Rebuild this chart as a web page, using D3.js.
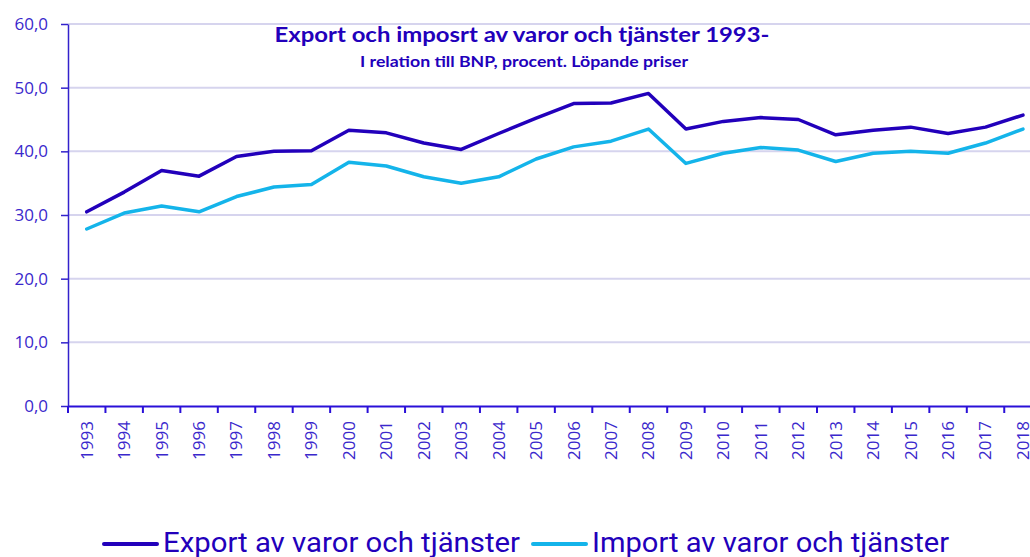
<!DOCTYPE html>
<html>
<head>
<meta charset="utf-8">
<script src="https://cdn.jsdelivr.net/npm/d3@7"></script>
<style>
  body { margin: 0; background: #fff; overflow: hidden; }
  svg { display: block; }
</style>
</head>
<body>
<script>
// Data
var years = ["1993","1994","1995","1996","1997","1998","1999","2000","2001","2002","2003","2004","2005",
  "2006","2007","2008","2009","2010","2011","2012","2013","2014","2015","2016","2017","2018"];
var exportValues = [30.5,33.6,37.0,36.1,39.2,40.0,40.1,43.3,42.9,41.3,40.3,42.8,45.2,
  47.5,47.6,49.1,43.5,44.7,45.3,45.0,42.6,43.3,43.8,42.8,43.8,45.7];
var importValues = [27.8,30.3,31.4,30.5,32.9,34.4,34.8,38.3,37.7,36.0,35.0,36.0,38.8,
  40.7,41.6,43.5,38.1,39.7,40.6,40.2,38.4,39.7,40.0,39.7,41.3,43.5];
var yTicks = [0, 10, 20, 30, 40, 50, 60];
var seriesNames = ["Export av varor och tjänster", "Import av varor och tjänster"];
var seriesColors = ["#2200bb", "#14b4ea"];

var svgWidth = 1030;
var svgHeight = 557;
var margin = { top: 24, left: 68 };
var chartHeight = 406 - margin.top;
var bandStep = 37.45;

var svg = d3.select("body").append("svg")
  .attr("width", svgWidth)
  .attr("height", svgHeight);

var textColor = "#3a28cc";

var xScale = d3.scaleBand()
  .domain(years)
  .range([margin.left, margin.left + bandStep * years.length]);

var yScale = d3.scaleLinear()
  .domain([0, 60])
  .range([margin.top + chartHeight, margin.top]);

// gridlines
svg.append("g").selectAll("line")
  .data(yTicks.filter(d => d > 0))
  .enter().append("line")
  .attr("x1", margin.left)
  .attr("x2", svgWidth)
  .attr("y1", d => yScale(d))
  .attr("y2", d => yScale(d))
  .attr("stroke", "#d6d4ee")
  .attr("stroke-width", 2);

// y axis
var yAxis = svg.append("g")
  .attr("transform", `translate(${margin.left},0)`)
  .call(d3.axisLeft(yScale).tickValues(yTicks).tickSize(7).tickSizeOuter(0)
    .tickFormat(d => d3.format(".1f")(d).replace(".", ",")));
yAxis.select(".domain").attr("stroke", "#3322cc").attr("stroke-width", 1.5);
yAxis.selectAll(".tick line").attr("stroke", "#3322cc").attr("stroke-width", 1.5);
yAxis.selectAll("text")
  .attr("x", -20)
  .attr("fill", textColor)
  .style("font-family", "'Open Sans', sans-serif")
  .style("font-size", "17px");

// x axis
var xAxis = svg.append("g")
  .attr("transform", `translate(0,${yScale(0)})`)
  .call(d3.axisBottom(xScale).tickSize(0).tickSizeOuter(0));
xAxis.select(".domain").attr("stroke", "#2a10d8").attr("stroke-width", 2);
xAxis.selectAll("text")
  .attr("transform", "rotate(-90)")
  .attr("x", -15)
  .attr("y", 0)
  .attr("dy", "0.35em")
  .style("text-anchor", "end")
  .attr("fill", textColor)
  .style("font-family", "'Open Sans', sans-serif")
  .style("font-size", "17px");

// tick marks between categories
svg.append("g").selectAll("line")
  .data(years)
  .enter().append("line")
  .attr("x1", d => xScale(d))
  .attr("x2", d => xScale(d))
  .attr("y1", yScale(0))
  .attr("y2", yScale(0) + 7)
  .attr("stroke", "#2a10d8")
  .attr("stroke-width", 2);

// lines
var drawLine = d3.line()
  .x((d, i) => xScale(years[i]) + xScale.bandwidth() / 2)
  .y(d => yScale(d));

[exportValues, importValues].forEach(function(values, i) {
  svg.append("path")
    .attr("d", drawLine(values))
    .attr("fill", "none")
    .attr("stroke", seriesColors[i])
    .attr("stroke-width", 3.5)
    .attr("stroke-linejoin", "round")
    .attr("stroke-linecap", "round");
});

// title
svg.append("text")
  .attr("x", 522)
  .attr("y", 42)
  .attr("text-anchor", "middle")
  .attr("fill", "#2200bb")
  .style("font-family", "Lato, sans-serif")
  .style("font-weight", "bold")
  .style("font-size", "20px")
  .attr("textLength", 495)
  .attr("lengthAdjust", "spacingAndGlyphs")
  .text("Export och imposrt av varor och tjänster 1993-");
svg.append("text")
  .attr("x", 524)
  .attr("y", 67)
  .attr("text-anchor", "middle")
  .attr("fill", "#2200bb")
  .style("font-family", "Lato, sans-serif")
  .style("font-weight", "bold")
  .style("font-size", "15px")
  .attr("textLength", 328)
  .attr("lengthAdjust", "spacingAndGlyphs")
  .text("I relation till BNP, procent. Löpande priser");

// legend
var legendX = [104, 533];
seriesNames.forEach(function(name, i) {
  var g = svg.append("g").attr("transform", `translate(${legendX[i]},544)`);
  g.append("line")
    .attr("x1", 0).attr("x2", 53)
    .attr("y1", 0).attr("y2", 0)
    .attr("stroke", seriesColors[i])
    .attr("stroke-width", 4)
    .attr("stroke-linecap", "round");
  g.append("text")
    .attr("x", 59)
    .attr("y", 8)
    .attr("fill", "#2200bb")
    .style("font-family", "Roboto, sans-serif")
    .style("font-size", "28px")
    .attr("textLength", 357)
    .attr("lengthAdjust", "spacingAndGlyphs")
    .text(name);
});
</script>
</body>
</html>
